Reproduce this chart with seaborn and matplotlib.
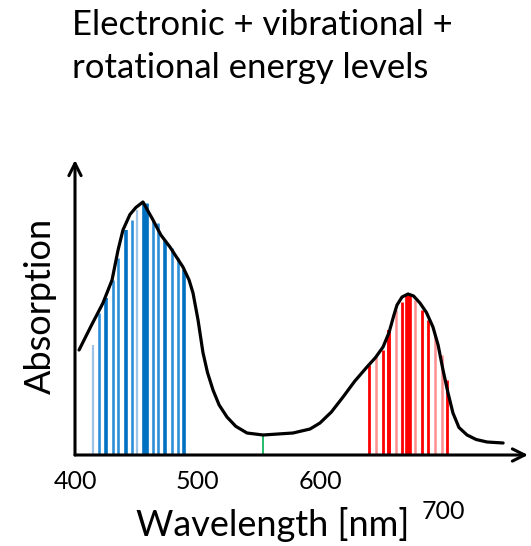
import numpy as np
import pandas as pd
import matplotlib
matplotlib.use("Agg")
import matplotlib.pyplot as plt
import matplotlib.transforms as mtransforms
import seaborn as sns

# ---- data ----
curve_wl = [403.3, 413.0, 422.8, 430.2, 435.1, 439.1, 444.8, 449.6, 455.4, 463.6,
            470.0, 477.4, 488.0, 493.0, 496.2, 500.3, 504.3, 508.0, 512.5, 517.5,
            523.9, 531.0, 540.2, 553.3, 577.7, 591.6, 599.7, 609.0, 618.5, 628.0,
            638.0, 645.0, 651.1, 656.0, 660.0, 662.5, 666.6, 671.5, 676.0, 681.2,
            686.5, 691.8, 696.0, 700.0, 704.0, 708.1, 713.0, 719.6, 727.0, 735.9,
            749.0]
curve_abs = [0.42, 0.515, 0.608, 0.70, 0.82, 0.90, 0.962, 0.99, 1.012, 0.94,
             0.88, 0.832, 0.752, 0.70, 0.648, 0.54, 0.41, 0.33, 0.26, 0.20,
             0.152, 0.115, 0.088, 0.08, 0.088, 0.104, 0.128, 0.172, 0.232, 0.295,
             0.352, 0.39, 0.432, 0.49, 0.56, 0.60, 0.632, 0.644, 0.636, 0.608,
             0.57, 0.512, 0.44, 0.34, 0.25, 0.168, 0.11, 0.08, 0.062, 0.052,
             0.048]

blue_wl = [414.9, 419.6, 425.0, 431.0, 435.3, 441.3, 446.2, 450.8, 457.1, 463.6,
           467.9, 473.4, 478.8, 483.7, 489.1]
blue_top = [0.44, 0.568, 0.63, 0.70, 0.788, 0.90, 0.94, 0.98, 1.008, 0.94,
            0.928, 0.86, 0.828, 0.788, 0.74]
blue_kind = ["pale", "mid", "dark", "mid", "mid", "dark", "mid", "pale", "xdark", "mid",
             "mid", "dark", "mid", "mid", "dark"]

red_wl = [639.9, 645.4, 650.8, 656.2, 661.7, 666.3, 671.7, 677.2, 682.6, 688.0,
          693.5, 698.9, 703.5]
red_top = [0.36, 0.392, 0.42, 0.50, 0.58, 0.612, 0.64, 0.62, 0.58, 0.54,
           0.48, 0.40, 0.30]
red_kind = ["mid", "pale", "mid", "dark", "pale", "mid", "xdark", "pale", "mid", "mid",
            "pale", "pale", "mid"]

green_wl = [553.3]
green_top = [0.08]

tick_values = [400, 500, 600, 700]
tick_labels = ["400", "500", "600", "700"]

title_lines = "Electronic + vibrational +\nrotational energy levels"
xlabel = "Wavelength [nm]"
ylabel = "Absorption"

# ---- figure ----
W, H = 531, 546
sns.set_theme(style="white")
plt.rcParams['font.family'] = ['Lato', 'DejaVu Sans']
fig = plt.figure(figsize=(W / 100, H / 100), dpi=100)

x0, x1 = 75, 528
y0, y1 = 455, 160
ax = fig.add_axes([x0 / W, 1 - y0 / H, (x1 - x0) / W, (y0 - y1) / H])
px_per_nm = 1.2267
ax.set_xlim(400, 400 + (x1 - x0) / px_per_nm)
ax.set_ylim(0, (y0 - y1) / 250)
for s in ax.spines.values():
    s.set_visible(False)
ax.set_yticks([])
ax.patch.set_alpha(0)

styles = {
    "blue": {"pale": ("#9DC3E6", 1.6), "mid": ("#2E8FD8", 1.9), "dark": ("#0070C0", 2.6), "xdark": ("#0070C0", 4.8)},
    "red": {"pale": ("#FF9090", 1.8), "mid": ("#FF0000", 2.0), "dark": ("#FF0000", 2.8), "xdark": ("#FF0000", 4.8)},
}

def draw_lines(wls, tops, kinds, fam):
    for w, t, k in zip(wls, tops, kinds):
        c, lw = styles[fam][k]
        ax.vlines(w, 0, t, colors=c, linewidth=lw, zorder=2)

draw_lines(blue_wl, blue_top, blue_kind, "blue")
draw_lines(red_wl, red_top, red_kind, "red")
ax.vlines(green_wl, 0, green_top, colors="#00B050", linewidth=1.2, zorder=2)

df = pd.DataFrame({"wl": curve_wl, "abs": curve_abs})
sns.lineplot(data=df, x="wl", y="abs", ax=ax, color="black", linewidth=2.3,
             sort=False, estimator=None, zorder=3)
for ln in ax.lines:
    ln.set_solid_joinstyle("round")
    ln.set_solid_capstyle("round")
ax.set_xlabel("")
ax.set_ylabel("")

# axis arrows
arrow_kw = dict(arrowstyle="->", color="black", lw=2.2, mutation_scale=22,
                shrinkA=0, shrinkB=0)
ax.annotate("", xy=(1.0, 0), xytext=(0, 0), xycoords="axes fraction",
            textcoords="axes fraction", arrowprops=arrow_kw, annotation_clip=False, zorder=4)
ax.annotate("", xy=(0, 1.0), xytext=(0, 0), xycoords="axes fraction",
            textcoords="axes fraction", arrowprops=arrow_kw, annotation_clip=False, zorder=4)

# ticks
ax.set_xticks(tick_values)
ax.set_xticklabels(tick_labels, fontsize=18)
ax.tick_params(axis="x", length=0, pad=11, colors="black")
for lbl in ax.get_xticklabels():
    if lbl.get_text() == "700":
        lbl.set_transform(lbl.get_transform() +
                          mtransforms.ScaledTranslation(0, -30 / 100, fig.dpi_scale_trans))

# texts
fig.text(72 / W, 1 - 9 / H, title_lines, ha="left", va="top", fontsize=25,
         linespacing=1.42, color="black")
fig.text(273 / W, 1 - 524 / H, xlabel, ha="center", va="center", fontsize=26, color="black")
fig.text(40 / W, 1 - 306 / H, ylabel, ha="center", va="center", rotation=90,
         fontsize=26, color="black")

fig.savefig("out.png", dpi=100, facecolor="white")
